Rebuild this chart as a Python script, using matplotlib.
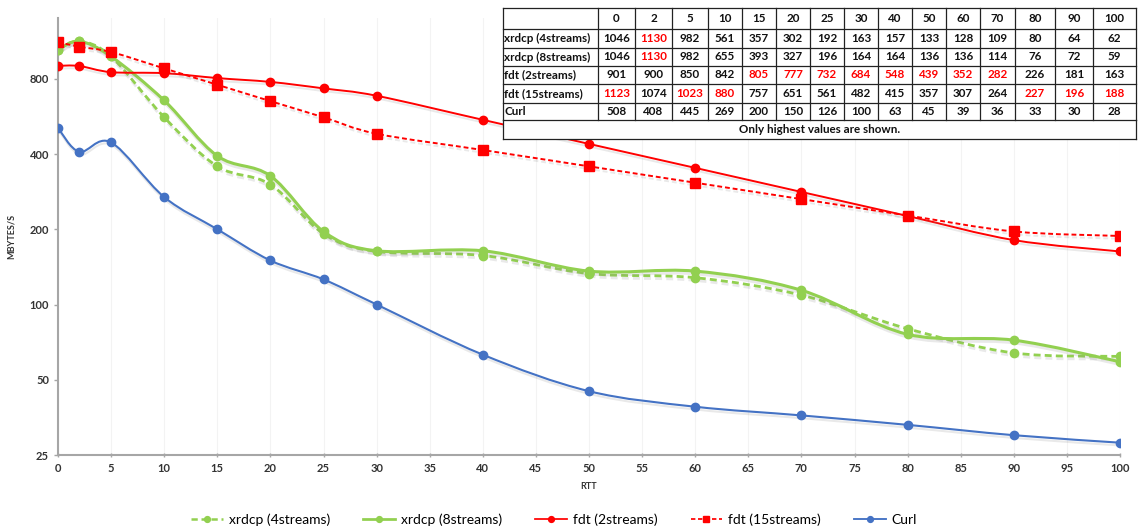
import numpy as np
import matplotlib
matplotlib.use("Agg")
import matplotlib.pyplot as plt
from matplotlib.path import Path
from matplotlib.patches import PathPatch, Rectangle
from matplotlib.lines import Line2D
import matplotlib.patheffects as pe

plt.rcParams['font.family'] = ['Lato', 'DejaVu Sans']

# data (MB/s per RTT)
rtt = [0, 2, 5, 10, 15, 20, 25, 30, 40, 50, 60, 70, 80, 90, 100]
xrdcp4 = [1046, 1130, 982, 561, 357, 302, 192, 163, 157, 133, 128, 109, 80, 64, 62]
xrdcp8 = [1046, 1130, 982, 655, 393, 327, 196, 164, 164, 136, 136, 114, 76, 72, 59]
fdt2 = [901, 900, 850, 842, 805, 777, 732, 684, 548, 439, 352, 282, 226, 181, 163]
fdt15 = [1123, 1074, 1023, 880, 757, 651, 561, 482, 415, 357, 307, 264, 227, 196, 188]
curl = [508, 408, 445, 269, 200, 150, 126, 100, 63, 45, 39, 36, 33, 30, 28]

names = ["xrdcp (4streams)", "xrdcp (8streams)", "fdt (2streams)", "fdt (15streams)", "Curl"]
# RTT columns shown in red in the table
hi_xrdcp4 = [2]
hi_xrdcp8 = [2]
hi_fdt2 = [15, 20, 25, 30, 40, 50, 60, 70]
hi_fdt15 = [0, 5, 10, 80, 90, 100]
hi_curl = []
note = "Only highest values are shown."

yticks = [25, 50, 100, 200, 400, 800]

GREEN = "#92D050"
RED = "#FF0000"
BLUE = "#4472C4"


def smooth_path(xs, ys):
    # excel-like smoothed line: catmull-rom bezier in (x, log y)
    px = np.asarray(xs, float)
    py = np.log(np.asarray(ys, float))
    n = len(px)
    verts = [(px[0], ys[0])]
    codes = [Path.MOVETO]
    for i in range(n - 1):
        i0 = max(i - 1, 0)
        i3 = min(i + 2, n - 1)
        c1 = (px[i] + (px[i+1] - px[i0]) / 6, py[i] + (py[i+1] - py[i0]) / 6)
        c2 = (px[i+1] - (px[i3] - px[i]) / 6, py[i+1] - (py[i3] - py[i]) / 6)
        verts += [(c1[0], np.exp(c1[1])), (c2[0], np.exp(c2[1])), (px[i+1], ys[i+1])]
        codes += [Path.CURVE4] * 3
    return Path(verts, codes)


W, H = 1138, 532
fig = plt.figure(figsize=(W / 100, H / 100), dpi=100)
ax = fig.add_axes([58 / W, (H - 455) / H, 1062 / W, (455 - 18) / H])

series = [
    (xrdcp4, GREEN, (0, (2.5, 1.5)), 2.0, 'o', 6),
    (xrdcp8, GREEN, '-', 2.2, 'o', 6),
    (fdt2, RED, '-', 1.4, 'o', 6),
    (fdt15, RED, (0, (2.5, 1.5)), 1.4, 's', 6.5),
    (curl, BLUE, '-', 1.5, 'o', 6),
]

handles = []
for vals, col, ls, lw, mk, ms in series:
    patch = PathPatch(smooth_path(rtt, vals), fill=False, edgecolor=col, lw=lw, ls=ls,
                      capstyle='butt', zorder=3,
                      path_effects=[pe.SimpleLineShadow(offset=(0.5, -2), shadow_color='#888888', alpha=0.18),
                                    pe.Normal()])
    ax.add_patch(patch)
    ax.plot(rtt, vals, ls='none', marker=mk, ms=ms, color=col, mec=col, zorder=4)
    handles.append(Line2D([], [], color=col, lw=lw * 0.9, ls=ls, marker=mk, ms=ms * 0.7))

ax.set_yscale('log')
ax.set_xlim(0, 100)
ax.set_ylim(25, 1400)
ax.set_yticks(yticks)
ax.set_yticklabels([str(v) for v in yticks])
ax.yaxis.set_minor_locator(matplotlib.ticker.NullLocator())
ax.set_xticks(range(0, 101, 5))
ax.grid(axis='x', color='#F3F3F3', lw=0.8)
ax.set_axisbelow(True)
for s in ['top', 'right']:
    ax.spines[s].set_visible(False)
for s in ['left', 'bottom']:
    ax.spines[s].set_color('#A6A6A6')
    ax.spines[s].set_linewidth(1.5)
ax.tick_params(axis='both', colors='#A6A6A6', labelcolor='#333333', labelsize=8, length=3, width=1)
ax.tick_params(axis='x', direction='inout', pad=4)
for t in ax.get_xticklabels() + ax.get_yticklabels():
    t.set_fontweight('bold')
ax.set_xlabel("RTT", fontsize=6.5, fontweight='bold', color='#333333', labelpad=6)
ax.set_ylabel("MBYTES/S", fontsize=6.5, fontweight='bold', color='#333333', labelpad=10)

fig.legend(handles, names, loc='center', bbox_to_anchor=(554 / W, 1 - 520 / H), ncol=5,
           frameon=False, fontsize=10, handlelength=2.3, columnspacing=2.4, handletextpad=0.4)

# table overlay, in pixel coordinates
tax = fig.add_axes([0, 0, 1, 1])
tax.set_zorder(5)
tax.set_xlim(0, W)
tax.set_ylim(H, 0)
tax.axis('off')

left = 503
col_w = [95, 37, 37, 36, 34, 34, 34, 34, 34, 34, 34, 34, 35, 40, 38, 43]
edges = left + np.concatenate([[0], np.cumsum(col_w)])
rows_y = [8, 29, 48, 66, 84, 103, 120]
note_bottom = 139
right = edges[-1]
lc = '#222222'

tax.add_patch(Rectangle((left, rows_y[0]), right - left, note_bottom - rows_y[0],
                        facecolor='white', edgecolor='none'))
for y in rows_y + [note_bottom]:
    tax.plot([left, right], [y, y], color=lc, lw=0.9)
for x in edges:
    tax.plot([x, x], [rows_y[0], rows_y[-1]], color=lc, lw=0.9)
tax.plot([left, left], [rows_y[-1], note_bottom], color=lc, lw=0.9)
tax.plot([right, right], [rows_y[-1], note_bottom], color=lc, lw=0.9)

fs = 8.4
for j, r in enumerate(rtt):
    cx = (edges[j + 1] + edges[j + 2]) / 2
    tax.text(cx, (rows_y[0] + rows_y[1]) / 2, str(r), ha='center', va='center',
             fontsize=fs, fontweight='bold', color='#111111')

table_rows = [(xrdcp4, hi_xrdcp4), (xrdcp8, hi_xrdcp8), (fdt2, hi_fdt2), (fdt15, hi_fdt15), (curl, hi_curl)]
for i, (name, (vals, hi)) in enumerate(zip(names, table_rows)):
    cy = (rows_y[i + 1] + rows_y[i + 2]) / 2
    tax.text(left + 1.5, cy, name, ha='left', va='center', fontsize=fs, fontweight='bold', color='#111111')
    for j, v in enumerate(vals):
        cx = (edges[j + 1] + edges[j + 2]) / 2
        tax.text(cx, cy, str(v), ha='center', va='center', fontsize=fs, fontweight='bold',
                 color=RED if rtt[j] in hi else '#111111')
tax.text((left + right) / 2, (rows_y[-1] + note_bottom) / 2, note, ha='center', va='center',
         fontsize=fs, fontweight='bold', color='#111111')

fig.savefig("out.png", dpi=100)
